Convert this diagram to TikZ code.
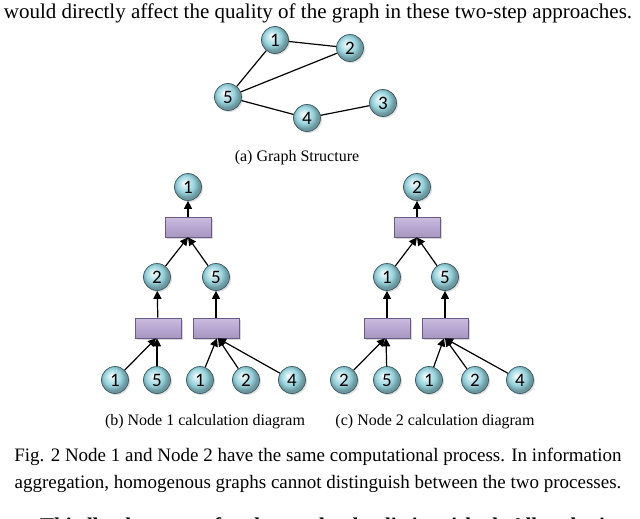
\documentclass[tikz,border=0pt]{standalone}
\usepackage{fontspec}
\setmainfont{Liberation Serif}
\newfontfamily\numfont{Carlito}
\usetikzlibrary{arrows.meta,shadows,calc}
\definecolor{ballc}{RGB}{150,210,220}
\definecolor{ballb}{RGB}{60,90,100}
\definecolor{boxf}{RGB}{184,168,210}
\definecolor{boxd}{RGB}{105,90,135}
\pgfdeclareradialshading{myball}{\pgfpoint{-7bp}{8bp}}{%
  color(0bp)=(white); color(5bp)=(ballc!35!white); color(16bp)=(ballc);
  color(24bp)=(ballc!72!black); color(50bp)=(ballc!60!black)}
\begin{document}
\begin{tikzpicture}[x=1pt,y=-1pt,
  ball/.style={circle, minimum size=27pt, inner sep=0pt, shading=myball,
    draw=ballb, line width=0.7pt, font=\numfont\fontsize{19}{19}\selectfont,
    drop shadow={opacity=0.25, shadow xshift=1.5pt, shadow yshift=-1.5pt}},
  agg/.style={rectangle, minimum width=46pt, minimum height=20pt, inner sep=0pt,
    top color=boxf!75!white, bottom color=boxf!90!black, middle color=boxf, draw=boxd, line width=0.7pt,
    drop shadow={opacity=0.3, shadow xshift=1.5pt, shadow yshift=-1.5pt}},
  edge/.style={line width=1.2pt},
  arr/.style={line width=1.2pt, -{Triangle[length=8pt,width=8pt]}},
  body/.style={font=\fontsize{21}{23}\selectfont, inner sep=0pt, anchor=base},
  fcap/.style={font=\fontsize{19}{21}\selectfont, inner sep=0pt, anchor=base},
  capt/.style={font=\fontsize{16}{18}\selectfont, inner sep=0pt, anchor=base},
]
\useasboundingbox (0,0) rectangle (640,519);
\fill[white] (0,0) rectangle (640,519);
\begin{scope}
\clip (0,0) rectangle (640,519);
\node[body] (t0) at (318,19) {would directly affect the quality of the graph in these two-step approaches.};
\node[body, anchor=base west] (t3) at (40,532) {\bfseries Thirdly, the types of nodes need to be distinguished. All nodes in};
\end{scope}

% (a) graph structure
\node[ball] (a1) at (275,40) {1};
\node[ball] (a2) at (350,48) {2};
\node[ball] (a5) at (228,97) {5};
\node[ball] (a4) at (307,118) {4};
\node[ball] (a3) at (383,103) {3};
\draw[edge] (a1) -- (a2);
\draw[edge] (a1) -- (a5);
\draw[edge] (a5) -- (a2);
\draw[edge] (a5) -- (a4);
\draw[edge] (a4) -- (a3);
\node[capt] (capa) at (297,161) {(a) Graph Structure};

% (b) node 1 calculation diagram
\node[ball] (bt) at (188,187) {1};
\node[agg] (bR) at (188,227) {};
\node[ball] (bm1) at (157,277) {2};
\node[ball] (bm2) at (216,277) {5};
\node[agg] (br1) at (158,328) {};
\node[agg] (br2) at (216,328) {};
\node[ball] (bb1) at (115,380) {1};
\node[ball] (bb2) at (157,380) {5};
\node[ball] (bb3) at (200,380) {1};
\node[ball] (bb4) at (246,380) {2};
\node[ball] (bb5) at (292,380) {4};
\draw[arr] (bR) -- (bt);
\draw[arr] (bm1) -- (bR.south);
\draw[arr] (bm2) -- (bR.south);
\draw[arr] (br1) -- (bm1);
\draw[arr] (br2) -- (bm2);
\draw[arr] (bb1) -- ($(br1.south)+(-2,0)$);
\draw[arr] (bb2) -- ($(br1.south)+(-1,0)$);
\draw[arr] (bb3) -- ($(br2.south)+(1,0)$);
\draw[arr] (bb4) -- ($(br2.south)+(2,0)$);
\draw[arr] (bb5) -- ($(br2.south)+(2,0)$);
\node[capt] (capb) at (205,425) {(b) Node 1 calculation diagram};

% (c) node 2 calculation diagram
\node[ball] (ct) at (417,187) {2};
\node[agg] (cR) at (417,227) {};
\node[ball] (cm1) at (387,277) {1};
\node[ball] (cm2) at (445,277) {5};
\node[agg] (cr1) at (387,328) {};
\node[agg] (cr2) at (445,328) {};
\node[ball] (cb1) at (344,380) {2};
\node[ball] (cb2) at (387,380) {5};
\node[ball] (cb3) at (429,380) {1};
\node[ball] (cb4) at (475,380) {2};
\node[ball] (cb5) at (520,380) {4};
\draw[arr] (cR) -- (ct);
\draw[arr] (cm1) -- (cR.south);
\draw[arr] (cm2) -- (cR.south);
\draw[arr] (cr1) -- (cm1);
\draw[arr] (cr2) -- (cm2);
\draw[arr] (cb1) -- ($(cr1.south)+(-2,0)$);
\draw[arr] (cb2) -- ($(cr1.south)+(-1,0)$);
\draw[arr] (cb3) -- ($(cr2.south)+(-1,0)$);
\draw[arr] (cb4) -- ($(cr2.south)+(0,0)$);
\draw[arr] (cb5) -- ($(cr2.south)+(0,0)$);
\node[capt] (capc) at (435,425) {(c) Node 2 calculation diagram};

% figure caption
\node[fcap] (f1) at (318,461) {Fig. 2 Node 1 and Node 2 have the same computational process. In information};
\node[fcap] (f2) at (318,488) {aggregation, homogenous graphs cannot distinguish between the two processes.};
\end{tikzpicture}
\end{document}
